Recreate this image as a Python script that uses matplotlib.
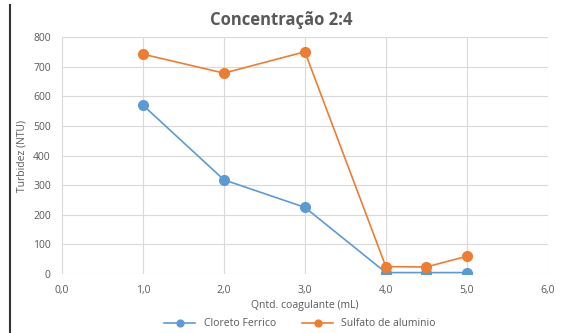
import matplotlib.pyplot as plt
from matplotlib.lines import Line2D

plt.rcParams['font.family'] = ['Open Sans', 'DejaVu Sans']

dose = [1.0, 2.0, 3.0, 4.0, 4.5, 5.0]
cloreto = [570, 318, 225, 5, 5, 5]
sulfato = [742, 678, 750, 25, 24, 60]

blue = '#5b9bd5'
orange = '#ed7d31'

fig = plt.figure(figsize=(5.63, 3.33), dpi=100)
ax = fig.add_axes([0.110, 0.177, 0.863, 0.712])

ax.plot(dose, cloreto, color=blue, marker='o', markersize=7, linewidth=1.2, label='Cloreto Ferrico')
ax.plot(dose, sulfato, color=orange, marker='o', markersize=7, linewidth=1.2, label='Sulfato de aluminio')

ax.set_xlim(0, 6)
ax.set_ylim(0, 800)
ax.set_xticks(range(0, 7))
ax.set_xticklabels([f'{v},0' for v in range(0, 7)])
ax.set_yticks(range(0, 801, 100))
ax.grid(True, color='#d9d9d9', linewidth=0.8)
ax.set_axisbelow(True)
for s in ax.spines.values():
    s.set_visible(False)
ax.tick_params(length=0, labelsize=7.5, labelcolor='#595959', pad=8)

ax.set_xlabel('Qntd. coagulante (mL)', fontsize=7.5, color='#595959', labelpad=3)
ax.set_ylabel('Turbidez (NTU)', fontsize=7.5, color='#595959', labelpad=4)
fig.text(0.50, 0.94, 'Concentração 2:4', ha='center', va='center',
         fontsize=12, fontweight='bold', color='#595959')

ax.legend(loc='center', bbox_to_anchor=(0.49, -0.21), ncol=2, frameon=False,
          fontsize=7.5, labelcolor='#595959', handlelength=3, columnspacing=2.5,
          markerscale=0.7, borderpad=0.1)

# left border line
fig.add_artist(Line2D([0.018, 0.018], [0.0, 0.985], color='#333333', linewidth=1.5))

fig.savefig('out.png', dpi=100)
